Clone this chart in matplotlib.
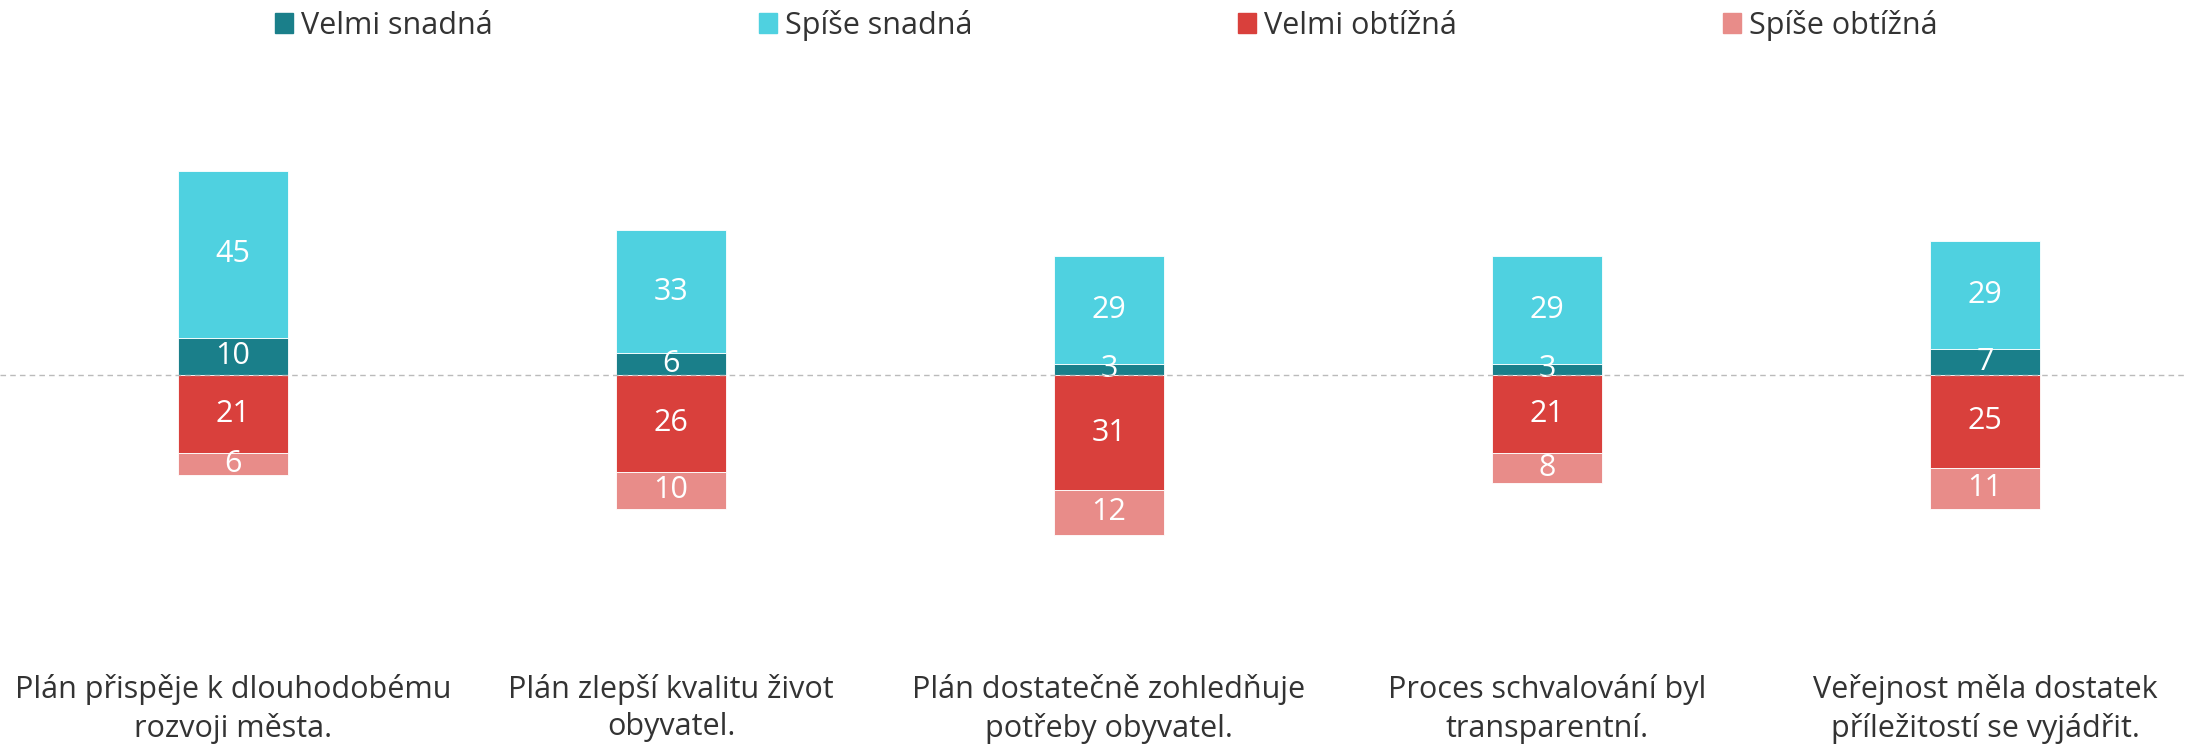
import numpy as np
import matplotlib.pyplot as plt
from matplotlib.patches import Patch

plt.rcParams['font.family'] = ['Open Sans', 'DejaVu Sans']

# data
otazky = ["Plán přispěje k dlouhodobému\nrozvoji města.",
          "Plán zlepší kvalitu život\nobyvatel.",
          "Plán dostatečně zohledňuje\npotřeby obyvatel.",
          "Proces schvalování byl\ntransparentní.",
          "Veřejnost měla dostatek\npříležitostí se vyjádřit."]
velmi_snadna = [10, 6, 3, 3, 7]
spise_snadna = [45, 33, 29, 29, 29]
velmi_obtizna = [21, 26, 31, 21, 25]
spise_obtizna = [6, 10, 12, 8, 11]

barvy = {"Velmi snadná": "#1a7f8a", "Spíše snadná": "#4fd1e0",
         "Velmi obtížná": "#d9403c", "Spíše obtížná": "#e88c89"}

fig = plt.figure(figsize=(21.86, 7.44), dpi=100)
ax = fig.add_axes([0, 114 / 744, 1, 540 / 744])

x = np.arange(len(otazky))
w = 0.25
vs = np.array(velmi_snadna)
ss = np.array(spise_snadna)
vo = np.array(velmi_obtizna)
so = np.array(spise_obtizna)

b1 = ax.bar(x, vs, w, color=barvy["Velmi snadná"], edgecolor="white", linewidth=0.6)
b2 = ax.bar(x, ss, w, bottom=vs, color=barvy["Spíše snadná"], edgecolor="white", linewidth=0.6)
b3 = ax.bar(x, -vo, w, color=barvy["Velmi obtížná"], edgecolor="white", linewidth=0.6)
b4 = ax.bar(x, -so, w, bottom=-vo, color=barvy["Spíše obtížná"], edgecolor="white", linewidth=0.6)

for bars, vals in [(b1, vs), (b2, ss), (b3, vo), (b4, so)]:
    ax.bar_label(bars, labels=[str(v) for v in vals], label_type="center",
                 color="white", fontsize=22)

ax.axhline(0, color="#bbbbbb", linestyle=(0, (4, 3)), linewidth=1, zorder=5)

ax.set_xlim(-0.532, 4.459)
ax.set_ylim(-68.7, 76.8)
ax.set_xticks(x)
ax.set_xticklabels(otazky, fontsize=22, color="#333333", linespacing=1.3)
ax.tick_params(axis="x", length=0, pad=32)
ax.set_yticks([])
for s in ax.spines.values():
    s.set_visible(False)

handles = [Patch(color=c, label=k) for k, c in barvy.items()]
fig.legend(handles=handles, loc="center", bbox_to_anchor=(0.506, 0.966), ncol=4,
           frameon=False, fontsize=22, handlelength=0.6, handleheight=0.6,
           handletextpad=0.25, columnspacing=8.7, labelcolor="#333333")

fig.savefig("out.png", dpi=100)
